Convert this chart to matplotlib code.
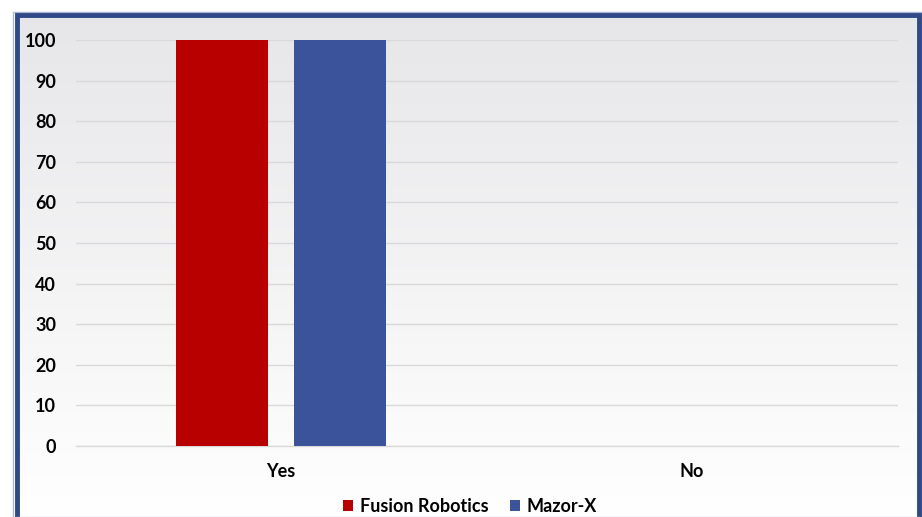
import matplotlib
matplotlib.use("Agg")
import matplotlib.pyplot as plt
import numpy as np
from matplotlib.patches import Rectangle

categories = ["Yes", "No"]
series_names = ["Fusion Robotics", "Mazor-X"]
fusion_values = [100, 0]
mazor_values = [100, 0]
yticks = [0, 10, 20, 30, 40, 50, 60, 70, 80, 90, 100]

colors = ["#b80000", "#3a539b"]

plt.rcParams['font.family'] = ['Lato', 'DejaVu Sans']

W, H = 922, 517
fig = plt.figure(figsize=(W / 100, H / 100), dpi=100)
fig.patch.set_facecolor("white")

# background gradient inside frame
bg = fig.add_axes([0, 0, 1, 1], zorder=-10)
grad = np.linspace(0, 1, 256).reshape(-1, 1)
top = np.array([0.905, 0.905, 0.915])
bot = np.array([1.0, 1.0, 1.0])
img = top[None, None, :] * (1 - grad[:, :, None]) + bot[None, None, :] * grad[:, :, None]
bg.imshow(img, aspect="auto", extent=[16 / W, 919 / W, 0, (H - 16) / H], origin="upper")
bg.set_xlim(0, 1)
bg.set_ylim(0, 1)
bg.axis("off")

# frame border (bottom edge runs past the image)
fig.patches.append(Rectangle((16.5 / W, -10 / H), (919 - 16.5) / W, (H - 15 + 10) / H,
                             transform=fig.transFigure, fill=False,
                             edgecolor="#2f4886", linewidth=3.5, zorder=5))
fig.patches.append(Rectangle((13 / W, -10 / H), (922 - 13) / W, (H - 12 + 10) / H,
                             transform=fig.transFigure, fill=False,
                             edgecolor="#a9b6d6", linewidth=1.0, zorder=4))
fig.lines.append(plt.Line2D([16 / W, 919 / W], [0.5 / H, 0.5 / H], transform=fig.transFigure,
                            color="#c5d0ea", linewidth=1.0, zorder=6))

ax = fig.add_axes([75.5 / W, (H - 446) / H, (897.5 - 75.5) / W, (446 - 40) / H])
ax.set_facecolor("none")

x = np.arange(len(categories))
width = 0.224
offset = 0.1425
ax.bar(x - offset, fusion_values, width, color=colors[0], label=series_names[0], zorder=3)
ax.bar(x + offset, mazor_values, width, color=colors[1], label=series_names[1], zorder=3)

ax.set_xlim(-0.5, 1.5)
ax.set_ylim(0, 100)
ax.set_yticks(yticks)
ax.set_yticklabels([str(v) for v in yticks], fontsize=13, fontweight="bold")
ax.set_xticks(x)
ax.set_xticklabels(categories, fontsize=13, fontweight="bold")
ax.tick_params(axis="y", length=0, pad=14)
ax.tick_params(axis="x", length=0, pad=12)
ax.yaxis.grid(True, color="#d9d9d9", linewidth=1.0, zorder=0)
ax.set_axisbelow(True)
for s in ["top", "right", "left"]:
    ax.spines[s].set_visible(False)
ax.spines["bottom"].set_color("#d9d9d9")
ax.spines["bottom"].set_linewidth(1.0)

fig.legend(loc="center", bbox_to_anchor=(470 / W, (H - 506) / H), ncol=2, frameon=False,
           prop={"size": 13, "weight": "bold"}, handlelength=0.55, handleheight=0.55,
           handletextpad=0.35, columnspacing=1.2, borderpad=0)

fig.savefig("out.png", dpi=100)
